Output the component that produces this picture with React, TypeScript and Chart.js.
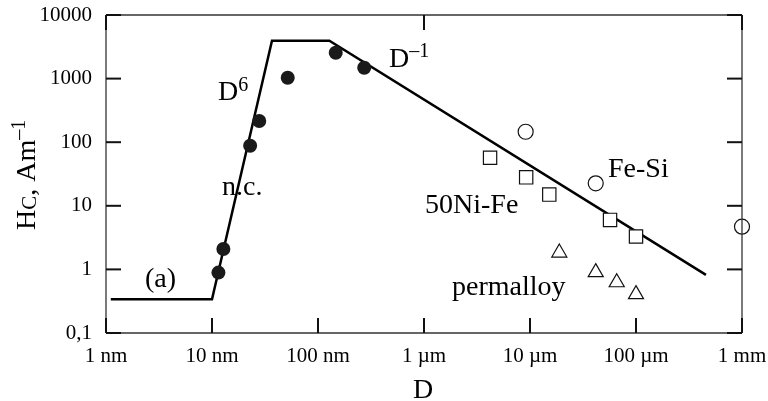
import React, { useEffect, useRef } from "react";
import { Chart, registerables } from "chart.js";

Chart.register(...registerables);

const FONT = "Liberation Serif";

const xTickValues = [1, 10, 100, 1000, 10000, 100000, 1000000];
const xTickLabels = ["1 nm", "10 nm", "100 nm", "1 µm", "10 µm", "100 µm", "1 mm"];
const xTopTickValues = [1, 1000, 1000000];
const yTickValues = [0.1, 1, 10, 100, 1000, 10000];
const yTickLabels = ["0,1", "1", "10", "100", "1000", "10000"];

// D in nm, Hc in A/m
const nanoD = [11.5, 12.8, 22.9, 27.9, 51.8, 147, 273];
const nanoHc = [0.89, 2.09, 88, 215, 1030, 2550, 1480];
const niFeD = [4200, 9200, 15200, 56900, 100000];
const niFeHc = [57, 28, 15, 6.0, 3.3];
const feSiD = [9100, 41700, 1000000];
const feSiHc = [146, 22.6, 4.7];
const permD = [18900, 41700, 65800, 100000];
const permHc = [1.83, 0.9, 0.625, 0.405];
const trendD = [1.11, 10, 36.8, 128, 457000];
const trendHc = [0.34, 0.34, 3950, 3950, 0.82];

const pts = (xs: number[], ys: number[]) => xs.map((x, i) => ({ x, y: ys[i] }));

type Part = { t: string; size: number; dy?: number };

function drawRich(ctx: CanvasRenderingContext2D, parts: Part[], x: number, y: number) {
  let cx = x;
  ctx.textAlign = "left";
  ctx.textBaseline = "alphabetic";
  for (const p of parts) {
    ctx.font = `${p.size}px "${FONT}"`;
    ctx.fillText(p.t, cx, y + (p.dy || 0));
    cx += ctx.measureText(p.t).width;
  }
}

function line(ctx: CanvasRenderingContext2D, x1: number, y1: number, x2: number, y2: number) {
  ctx.beginPath();
  ctx.moveTo(x1, y1);
  ctx.lineTo(x2, y2);
  ctx.stroke();
}

const decorPlugin = {
  id: "decor",
  afterDraw(chart: any) {
    const ctx: CanvasRenderingContext2D = chart.ctx;
    const area = chart.chartArea;
    const left = area.left, right = area.right, top = area.top, bottom = area.bottom;
    const xs = chart.scales.x;
    const ys = chart.scales.y;
    ctx.save();
    ctx.globalAlpha = 1;
    ctx.globalCompositeOperation = "source-over";
    ctx.setLineDash([]);
    // frame
    ctx.strokeStyle = "#333333";
    ctx.lineWidth = 1.3;
    line(ctx, left, top, right, top);
    line(ctx, right, top, right, bottom);
    line(ctx, right, bottom, left, bottom);
    line(ctx, left, bottom, left, top);
    // ticks
    ctx.strokeStyle = "#111111";
    ctx.lineWidth = 2;
    const L = 15;
    for (const v of yTickValues) {
      const py = ys.getPixelForValue(v);
      line(ctx, left, py, left + L, py);
      line(ctx, right, py, right - L, py);
    }
    for (const v of xTickValues) {
      const px = xs.getPixelForValue(v);
      line(ctx, px, bottom, px, bottom - L);
    }
    for (const v of xTopTickValues) {
      const px = xs.getPixelForValue(v);
      line(ctx, px, top, px, top + L);
    }

    // annotations
    ctx.fillStyle = "#000";
    drawRich(ctx, [{ t: "D", size: 28 }, { t: "6", size: 20, dy: -9 }], 218, 100);
    drawRich(ctx, [{ t: "n.c.", size: 28 }], 222, 195);
    drawRich(ctx, [{ t: "(a)", size: 28 }], 145, 287);
    drawRich(ctx, [{ t: "D", size: 28 }, { t: "–1", size: 20, dy: -10 }], 389, 67);
    drawRich(ctx, [{ t: "Fe-Si", size: 28 }], 608, 177);
    drawRich(ctx, [{ t: "50Ni-Fe", size: 28 }], 425, 213);
    drawRich(ctx, [{ t: "permalloy", size: 28 }], 452, 295);

    // axis titles
    ctx.font = `28px "${FONT}"`;
    ctx.textAlign = "center";
    ctx.textBaseline = "alphabetic";
    ctx.fillText("D", 423, 398);

    ctx.save();
    ctx.translate(35, 230);
    ctx.rotate(-Math.PI / 2);
    drawRich(
      ctx,
      [
        { t: "H", size: 28 },
        { t: "C", size: 21, dy: 1 },
        { t: ", Am", size: 28 },
        { t: "–1", size: 20, dy: -10 },
      ],
      0,
      0
    );
    ctx.restore();
    ctx.restore();
  },
};

const zeroPad = (s: any) => {
  s.paddingLeft = 0;
  s.paddingRight = 0;
  s.paddingTop = 0;
  s.paddingBottom = 0;
};

export default function App() {
  const ref = useRef<HTMLCanvasElement | null>(null);
  useEffect(() => {
    document.body.style.margin = "0";
    const canvas = ref.current!;
    const openStyle = {
      backgroundColor: "#fff",
      borderColor: "#111",
      borderWidth: 1.2,
      showLine: false,
    };
    const chart = new Chart(canvas, {
      type: "scatter",
      data: {
        datasets: [
          {
            label: "nc",
            data: pts(nanoD, nanoHc),
            pointStyle: "circle",
            pointRadius: 7,
            backgroundColor: "#1a1a1a",
            borderColor: "#1a1a1a",
            borderWidth: 0,
          },
          { label: "50Ni-Fe", data: pts(niFeD, niFeHc), pointStyle: "rect", pointRadius: 9.4, ...openStyle },
          { label: "Fe-Si", data: pts(feSiD, feSiHc), pointStyle: "circle", pointRadius: 7.5, clip: false, ...openStyle } as any,
          { label: "permalloy", data: pts(permD, permHc), pointStyle: "triangle", pointRadius: 8.7, ...openStyle },
          {
            label: "trend",
            data: pts(trendD, trendHc),
            showLine: true,
            pointRadius: 0,
            borderColor: "#000",
            borderWidth: 2.5,
            tension: 0,
          } as any,
        ],
      },
      options: {
        responsive: false,
        animation: false,
        devicePixelRatio: 1,
        layout: { padding: { top: 15, right: 26, left: 0, bottom: 0 } },
        plugins: { legend: { display: false }, tooltip: { enabled: false } },
        events: [],
        scales: {
          x: {
            type: "logarithmic",
            min: 1,
            max: 1000000,
            grid: { display: false, drawTicks: false },
            border: { display: false },
            ticks: {
              font: { family: FONT, size: 21 },
              color: "#000",
              padding: 11,
              autoSkip: false,
              maxRotation: 0,
              callback: (_v: any, i: number) => xTickLabels[i],
            },
            afterBuildTicks: (s: any) => {
              s.ticks = xTickValues.map((v) => ({ value: v }));
            },
            afterFit: (s: any) => {
              s.height = 68;
              zeroPad(s);
            },
          },
          y: {
            type: "logarithmic",
            min: 0.1,
            max: 10000,
            grid: { display: false, drawTicks: false },
            border: { display: false },
            ticks: {
              font: { family: FONT, size: 21 },
              color: "#000",
              padding: 14,
              autoSkip: false,
              callback: (_v: any, i: number) => yTickLabels[i],
            },
            afterBuildTicks: (s: any) => {
              s.ticks = yTickValues.map((v) => ({ value: v }));
            },
            afterFit: (s: any) => {
              s.width = 106;
              zeroPad(s);
            },
          },
        },
      },
      plugins: [decorPlugin],
    });
    return () => chart.destroy();
  }, []);
  return (
    <div style={{ width: 768, height: 401 }}>
      <canvas ref={ref} width={768} height={401} style={{ display: "block" }} />
    </div>
  );
}
